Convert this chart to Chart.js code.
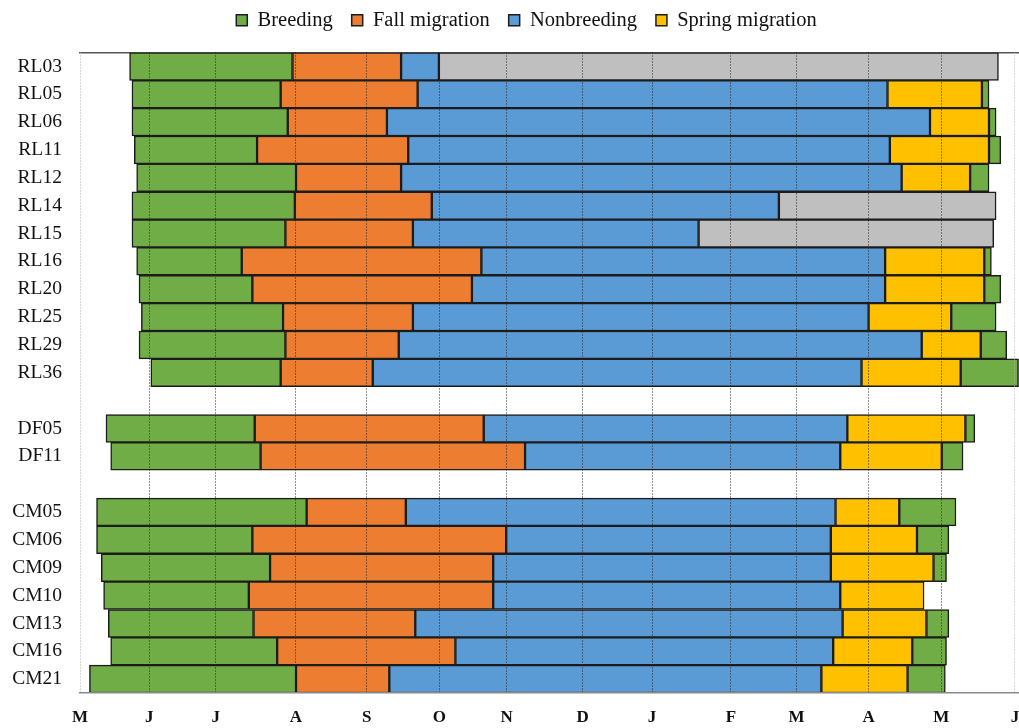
<!DOCTYPE html>
<html>
<head>
<meta charset="utf-8">
<title>Annual cycle phases by individual</title>
<script src="https://cdn.jsdelivr.net/npm/chart.js@4"></script>
<style>
  html, body { margin: 0; padding: 0; background: #fff; overflow: hidden; }
  #wrap { width: 1019px; height: 728px; }
  canvas { display: block; }
</style>
</head>
<body>
<div id="wrap"><canvas id="chart" width="1019" height="728"></canvas></div>
<script>
// Individuals (blank entries separate the three groups)
const birds = ['RL03','RL05','RL06','RL11','RL12','RL14','RL15','RL16','RL20','RL25','RL29','RL36',
               '', 'DF05','DF11', '',
               'CM05','CM06','CM09','CM10','CM13','CM16','CM21'];

// Phase boundaries, in days since 1 May of the tagging year
const breedingStart    = [21, 22, 22, 23, 24, 22, 22, 24, 25, 26, 25, 30, null, 11, 13, null, 7, 7, 9, 10, 12, 13, 4];
const fallStart        = [90, 85, 88, 75, 91.5, 91, 87, 68.5, 73, 86, 87, 85, null, 74, 76.5, null, 96, 73, 80.5, 71.5, 73.5, 83.5, 91.5];
const nonbreedingStart = [136, 143, 130, 139, 136, 149, 141, 170, 166, 141, 135, 124, null, 171, 188.5, null, 138, 180.5, 175, 175, 142, 159, 131];
const springStart      = [null, 342, 360, 343, 348, null, null, 341, 341, 334, 356.5, 331, null, 325, 322, null, 320, 318, 318, 322, 323, 319, 314];
const returnStart      = [null, 382, 385, 385, 377, null, null, 383, 383, 369, 381.5, 373, null, 375, 365, null, 347, 354.5, 361.5, null, 358.5, 352.5, 350.5];
const signalLost       = [152, null, null, null, null, 296, 262, null, null, null, null, null, null, null, null, null, null, null, null, null, null, null, null];
const trackEnd         = [389, 385, 388, 390, 385, 388, 387, 386, 390, 388, 392.5, 397.5, null, 379, 374, null, 371, 368, 367, 357.5, 368, 367, 366.5];

// Month ticks along the annual axis
const monthLabels = ['M','J','J','A','S','O','N','D','J','F','M','A','M','J'];
const monthTicks  = [0, 29.3, 57.5, 91.4, 121.4, 152.2, 180.7, 212.9, 242.3, 275.7, 303.5, 334.0, 364.8, 396];

const COLORS = {
  breeding: '#70AD47',
  fall: '#ED7D31',
  nonbreeding: '#5B9BD5',
  spring: '#FFC000',
  unknown: '#BFBFBF'
};

const span = (a, b) => birds.map((_, i) => (a[i] == null || b[i] == null) ? null : [a[i], b[i]]);
const pick = (...arrs) => birds.map((_, i) => {
  for (const a of arrs) if (a[i] != null) return a[i];
  return null;
});

const nonbreedingEnd = pick(springStart, signalLost);
const springEnd = pick(returnStart, trackEnd);

const barStyle = {
  borderColor: '#1c1c1c',
  borderWidth: 1.5,
  borderSkipped: false,
  grouped: false,
  barPercentage: 1,
  categoryPercentage: 1
};

const datasets = [
  { label: 'Breeding', data: span(breedingStart, fallStart), backgroundColor: COLORS.breeding, ...barStyle },
  { label: 'Fall migration', data: span(fallStart, nonbreedingStart), backgroundColor: COLORS.fall, ...barStyle },
  { label: 'Nonbreeding', data: span(nonbreedingStart, nonbreedingEnd), backgroundColor: COLORS.nonbreeding, ...barStyle },
  { label: 'Spring migration', data: span(springStart, springEnd), backgroundColor: COLORS.spring, ...barStyle },
  { label: 'Breeding (return)', data: span(returnStart, trackEnd), backgroundColor: COLORS.breeding, ...barStyle },
  { label: 'No data', data: span(signalLost, trackEnd), backgroundColor: COLORS.unknown, ...barStyle }
];

const serif = "'Liberation Serif', 'Times New Roman', serif";
const X_MIN = 0, X_MAX = 397.7;

// Nudge the legend block so it sits over the plot rather than the page centre
const legendOffset = {
  id: 'legendOffset',
  afterLayout(chart) {
    const lg = chart.legend;
    if (!lg) return;
    lg.left += 17; lg.right += 17;
    lg.top -= 9; lg.bottom -= 9;
  }
};

new Chart(document.getElementById('chart'), {
  type: 'bar',
  data: { labels: birds, datasets },
  plugins: [legendOffset],
  options: {
    indexAxis: 'y',
    responsive: false,
    animation: false,
    layout: { autoPadding: false, padding: 0 },
    plugins: {
      legend: {
        position: 'top',
        labels: {
          filter: (item) => item.datasetIndex < 4,
          boxWidth: 11,
          boxHeight: 11,
          padding: 19,
          color: '#111',
          font: { family: serif, size: 20.5 }
        }
      },
      tooltip: { enabled: false }
    },
    scales: {
      x: {
        type: 'linear',
        position: 'bottom',
        min: X_MIN,
        max: X_MAX,
        afterBuildTicks: (scale) => { scale.ticks = monthTicks.map(v => ({ value: v })); },
        afterFit: (scale) => {
          scale.height = 35;
          scale.paddingLeft = 0;
          scale.paddingRight = 0;
        },
        ticks: {
          autoSkip: false,
          maxRotation: 0,
          padding: 14,
          color: '#111',
          font: { family: serif, size: 17, weight: 'bold' },
          callback: (v, i) => monthLabels[i]
        },
        grid: {
          z: 1,
          drawTicks: false,
          lineWidth: 1,
          color: (ctx) => (ctx.index === 0 || ctx.index === monthTicks.length - 1) ? '#b0b0b0' : '#222'
        },
        border: { display: true, z: 1, color: '#8a8a8a', width: 1.5, dash: [1, 2] }
      },
      xTop: {
        type: 'linear',
        position: 'top',
        min: X_MIN,
        max: X_MAX,
        afterFit: (scale) => { scale.height = 3; },
        ticks: { display: false },
        grid: { display: false, drawTicks: false },
        border: { display: true, color: '#555', width: 1.5 }
      },
      y: {
        type: 'category',
        grid: { display: false, drawTicks: false },
        border: { display: false },
        afterFit: (scale) => { scale.width = 80; },
        ticks: {
          autoSkip: false,
          padding: 18,
          color: '#111',
          font: { family: serif, size: 19.5 }
        }
      }
    }
  }
});
</script>
</body>
</html>
